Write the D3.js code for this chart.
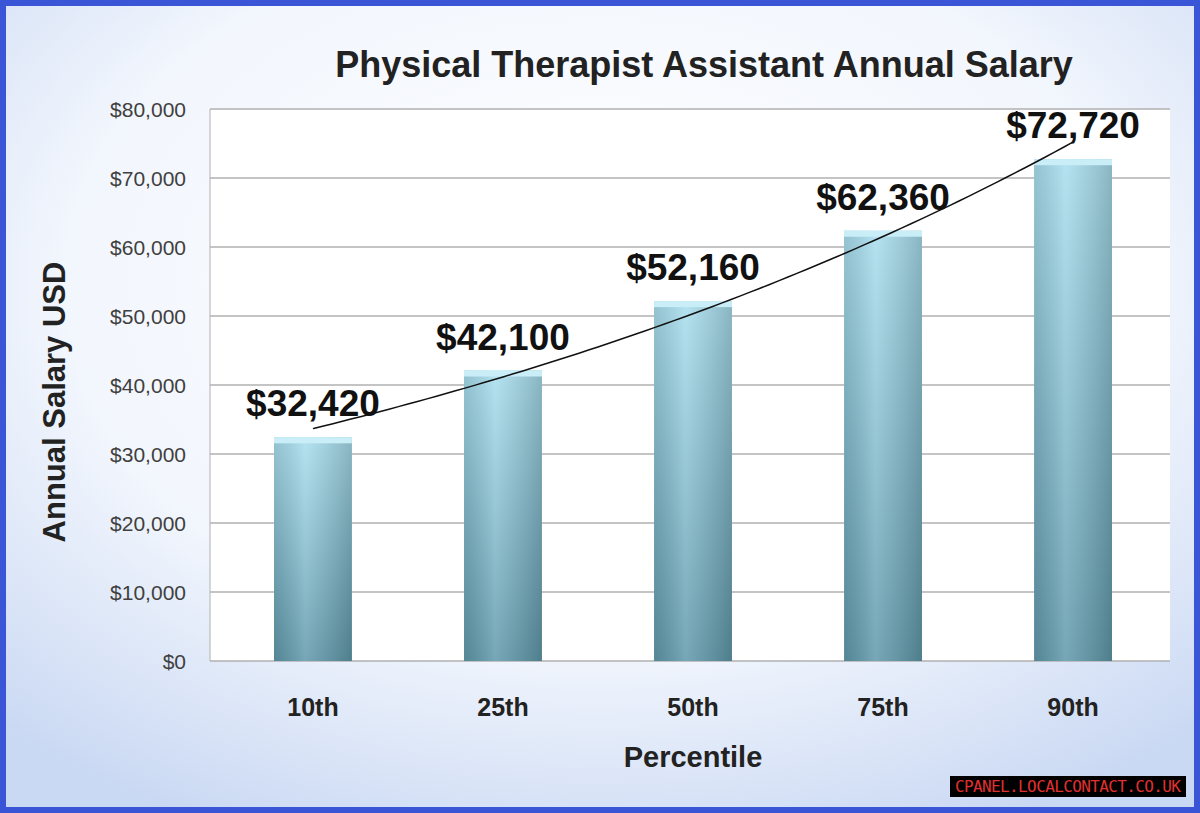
<!DOCTYPE html><html><head><meta charset="utf-8">
<script src="https://cdn.jsdelivr.net/npm/d3@7"></script>
<style>body{margin:0;}svg{display:block}</style></head><body>
<script>
const categories=["10th","25th","50th","75th","90th"];
const salaries=[32420,42100,52160,62360,72720];
const labels=["$32,420","$42,100","$52,160","$62,360","$72,720"];
const yTicks=[0,10000,20000,30000,40000,50000,60000,70000,80000];

const W=1200,H=813;
const svg=d3.select("body").append("svg").attr("width",W).attr("height",H);
const defs=svg.append("defs");
const bg=defs.append("radialGradient").attr("id","bg").attr("cx","50%").attr("cy","35%").attr("r","75%");
bg.append("stop").attr("offset","0%").attr("stop-color","#ffffff");
bg.append("stop").attr("offset","60%").attr("stop-color","#f2f6fd");
bg.append("stop").attr("offset","100%").attr("stop-color","#c9d8f3");
const bar=defs.append("linearGradient").attr("id","bar").attr("x1",0).attr("y1",0).attr("x2",0).attr("y2",1);
bar.append("stop").attr("offset","0%").attr("stop-color","#a9deee");
bar.append("stop").attr("offset","100%").attr("stop-color","#5f98aa");
const barH=defs.append("linearGradient").attr("id","barH").attr("x1",0).attr("y1",0).attr("x2",1).attr("y2",0);
barH.append("stop").attr("offset","0%").attr("stop-color","#000").attr("stop-opacity",0.12);
barH.append("stop").attr("offset","40%").attr("stop-color","#fff").attr("stop-opacity",0.15);
barH.append("stop").attr("offset","100%").attr("stop-color","#000").attr("stop-opacity",0.18);

svg.append("rect").attr("x",0).attr("y",0).attr("width",W).attr("height",H).attr("fill","#3a56d6");
svg.append("rect").attr("x",6).attr("y",6).attr("width",W-12).attr("height",H-12).attr("fill","url(#bg)");

const x=d3.scaleBand().domain(categories).range([217,1169]).paddingInner(0.59).paddingOuter(0.3);
const y=d3.scaleLinear().domain([0,80000]).range([661,109]);
svg.append("rect").attr("x",210).attr("y",109).attr("width",960).attr("height",552).attr("fill","#fff");

const font="'Liberation Sans', Arial, sans-serif";
const gy=svg.append("g");
yTicks.forEach(t=>{
  gy.append("line").attr("x1",210).attr("x2",1170).attr("y1",y(t)).attr("y2",y(t)).attr("stroke","#b0b0b0").attr("stroke-width",1.3);
  gy.append("text").attr("x",186).attr("y",y(t)+8).attr("text-anchor","end").attr("font-family",font).attr("font-size",21).attr("fill","#404040").text(d3.format("$,")(t));
});
svg.append("line").attr("x1",210).attr("x2",210).attr("y1",109).attr("y2",661).attr("stroke","#b0b0b0");

const g=svg.append("g");
categories.forEach((c,i)=>{
  const bx=x(c),bw=x.bandwidth(),by=y(salaries[i]);
  g.append("rect").attr("x",bx).attr("y",by).attr("width",bw).attr("height",661-by).attr("fill","url(#bar)");
  g.append("rect").attr("x",bx).attr("y",by).attr("width",bw).attr("height",661-by).attr("fill","url(#barH)");
  g.append("rect").attr("x",bx).attr("y",by).attr("width",bw).attr("height",6).attr("fill","#c9eef8");
  g.append("text").attr("x",bx+bw/2).attr("y",by-21).attr("text-anchor","middle").attr("font-family",font).attr("font-weight","bold").attr("font-size",37).attr("fill","#111").text(labels[i]);
  g.append("text").attr("x",bx+bw/2).attr("y",716).attr("text-anchor","middle").attr("font-family",font).attr("font-weight","bold").attr("font-size",25).attr("fill","#222").text(c);
});

// exponential trendline fitted to the data
const n=salaries.length,xs=d3.range(1,n+1),ls=salaries.map(Math.log);
const mx=d3.mean(xs),ml=d3.mean(ls);
const b=d3.sum(xs.map((v,i)=>(v-mx)*(ls[i]-ml)))/d3.sum(xs.map(v=>(v-mx)**2));
const a=ml-b*mx;
const pts=d3.range(1,n+0.001,0.05).map(t=>[x(categories[0])+x.bandwidth()/2+(t-1)*x.step(),y(Math.exp(a+b*t))]);
svg.append("path").attr("d",d3.line().curve(d3.curveBasis)(pts)).attr("fill","none").attr("stroke","#111").attr("stroke-width",1.5);

svg.append("text").attr("x",704).attr("y",77).attr("text-anchor","middle").attr("font-family",font).attr("font-weight","bold").attr("font-size",36).attr("fill","#222").text("Physical Therapist Assistant Annual Salary");
svg.append("text").attr("transform","translate(65,402) rotate(-90)").attr("text-anchor","middle").attr("font-family",font).attr("font-weight","bold").attr("font-size",31).attr("fill","#222").text("Annual Salary USD");
svg.append("text").attr("x",693).attr("y",767).attr("text-anchor","middle").attr("font-family",font).attr("font-weight","bold").attr("font-size",29).attr("fill","#222").text("Percentile");

svg.append("rect").attr("x",950).attr("y",776).attr("width",236).attr("height",21).attr("fill","#000");
svg.append("text").attr("x",1068).attr("y",792).attr("text-anchor","middle").attr("font-family","'DejaVu Sans Mono', monospace").attr("font-size",16).attr("textLength",226).attr("fill","#e03030").text("CPANEL.LOCALCONTACT.CO.UK");
</script></body></html>
